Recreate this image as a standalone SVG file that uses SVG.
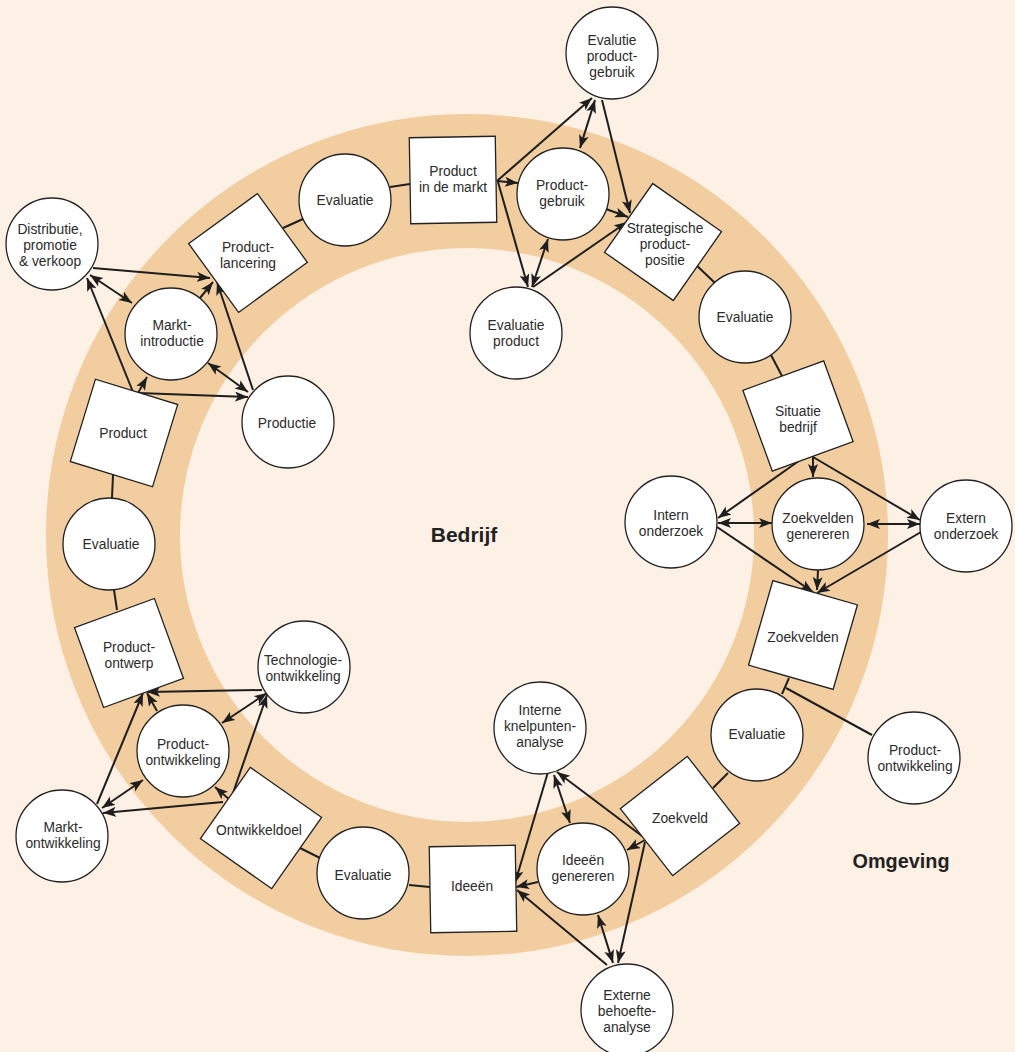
<svg xmlns="http://www.w3.org/2000/svg" width="1015" height="1052" viewBox="0 0 1015 1052">
<defs>
<style>
.bg{fill:#fdf0e4}
.ring{fill:none;stroke:#f1cda0;stroke-width:134}
.nd{fill:#fff;stroke:#222;stroke-width:1.3}
.t{font-family:"Liberation Sans",Arial,sans-serif;font-size:13.8px;fill:#2b2b2b;text-anchor:middle}
.big{font-family:"Liberation Sans",Arial,sans-serif;font-size:21px;font-weight:bold;fill:#222;text-anchor:middle}
.ln{stroke:#1e1e1e;stroke-width:2;fill:none}
.a{stroke:#1e1e1e;stroke-width:2;fill:none;marker-end:url(#ah)}
.b{stroke:#1e1e1e;stroke-width:2;fill:none;marker-end:url(#ah);marker-start:url(#ah)}
</style>
<marker id="ah" markerUnits="userSpaceOnUse" markerWidth="14" markerHeight="11" refX="13" refY="5" orient="auto-start-reverse">
<path d="M0,0 L13,5 L0,10 L3,5 z" fill="#1e1e1e"/>
</marker>
</defs>
<rect class="bg" x="0" y="0" width="1015" height="1052"/>
<circle class="ring" cx="467" cy="535" r="354"/>
<text class="big" x="464" y="542">Bedrijf</text>
<text class="big" x="901" y="868" textLength="97" lengthAdjust="spacingAndGlyphs">Omgeving</text>

<g id="connectors">
<line class="ln" x1="283" y1="228" x2="303" y2="219"/>
<line class="ln" x1="390" y1="187" x2="410" y2="184"/>
<line class="ln" x1="693" y1="262" x2="715" y2="283"/>
<line class="ln" x1="771" y1="355" x2="782" y2="376"/>
<line class="ln" x1="789" y1="678" x2="782" y2="694"/>
<line class="ln" x1="786" y1="688" x2="872" y2="735"/>
<line class="ln" x1="728" y1="773" x2="713" y2="788"/>
<line class="ln" x1="409" y1="885" x2="430" y2="887"/>
<line class="ln" x1="300" y1="848" x2="320" y2="858"/>
<line class="ln" x1="114" y1="590" x2="117" y2="610"/>
<line class="ln" x1="113" y1="475" x2="112" y2="498"/>

<line class="a" x1="497" y1="181" x2="592" y2="98"/>
<line class="a" x1="497" y1="181" x2="518" y2="183"/>
<line class="a" x1="498" y1="182" x2="528" y2="287"/>
<line class="b" x1="595" y1="100" x2="580" y2="148"/>
<line class="a" x1="602" y1="100" x2="630" y2="213"/>
<line class="a" x1="606" y1="209" x2="628" y2="217"/>
<line class="b" x1="548" y1="239" x2="532" y2="287"/>
<line class="a" x1="533" y1="287" x2="627" y2="222"/>

<line class="a" x1="93" y1="268" x2="210" y2="278"/>
<line class="b" x1="90" y1="275" x2="132" y2="303"/>
<line class="a" x1="200" y1="298" x2="213" y2="282"/>
<line class="a" x1="253" y1="390" x2="217" y2="282"/>
<line class="b" x1="208" y1="363" x2="248" y2="392"/>
<line class="a" x1="133" y1="392" x2="87" y2="278"/>
<line class="a" x1="138" y1="393" x2="147" y2="377"/>
<line class="a" x1="138" y1="393" x2="248" y2="397"/>

<line class="a" x1="813" y1="457" x2="813" y2="477"/>
<line class="a" x1="803" y1="458" x2="718" y2="518"/>
<line class="a" x1="813" y1="457" x2="920" y2="520"/>
<line class="b" x1="718" y1="523" x2="772" y2="523"/>
<line class="b" x1="867" y1="524" x2="920" y2="524"/>
<line class="a" x1="717" y1="527" x2="813" y2="592"/>
<line class="a" x1="818" y1="570" x2="817" y2="590"/>
<line class="a" x1="921" y1="532" x2="817" y2="593"/>

<line class="a" x1="645" y1="840" x2="627" y2="850"/>
<line class="a" x1="645" y1="842" x2="618" y2="963"/>
<line class="a" x1="642" y1="836" x2="557" y2="772"/>
<line class="a" x1="548" y1="772" x2="515" y2="883"/>
<line class="b" x1="554" y1="775" x2="570" y2="823"/>
<line class="a" x1="538" y1="882" x2="516" y2="887"/>
<line class="a" x1="607" y1="965" x2="517" y2="890"/>
<line class="b" x1="598" y1="915" x2="613" y2="963"/>

<line class="a" x1="262" y1="690" x2="147" y2="692"/>
<line class="a" x1="157" y1="711" x2="147" y2="693"/>
<line class="b" x1="222" y1="723" x2="267" y2="693"/>
<line class="a" x1="233" y1="793" x2="267" y2="695"/>
<line class="a" x1="230" y1="800" x2="215" y2="787"/>
<line class="a" x1="223" y1="802" x2="103" y2="813"/>
<line class="a" x1="97" y1="804" x2="143" y2="693"/>
<line class="b" x1="102" y1="808" x2="143" y2="780"/>
</g>

<g id="product-in-de-markt"><rect class="nd" x="-43" y="-43" width="86" height="86" transform="translate(453,180) rotate(-1)"/><text class="t" x="453" y="176">Product<tspan x="453" dy="16">in de markt</tspan></text></g>
<g id="strategische-productpositie"><rect class="nd" x="-42" y="-42" width="84" height="84" transform="translate(663,242) rotate(35)"/><text class="t" x="665" y="233">Strategische<tspan x="665" dy="16">product-</tspan><tspan x="665" dy="16">positie</tspan></text></g>
<g id="situatie-bedrijf"><rect class="nd" x="-43" y="-43" width="86" height="86" transform="translate(798,416) rotate(-20)"/><text class="t" x="798" y="416">Situatie<tspan x="798" dy="16">bedrijf</tspan></text></g>
<g id="zoekvelden"><rect class="nd" x="-44" y="-44" width="88" height="88" transform="translate(803,635) rotate(16)"/><text class="t" x="803" y="642">Zoekvelden</text></g>
<g id="zoekveld"><rect class="nd" x="-42.5" y="-42.5" width="85" height="85" transform="translate(680,816) rotate(52)"/><text class="t" x="680" y="823">Zoekveld</text></g>
<g id="ideeen"><rect class="nd" x="-43" y="-43" width="86" height="86" transform="translate(473,889) rotate(-1)"/><text class="t" x="472" y="891">Ideeën</text></g>
<g id="ontwikkeldoel"><rect class="nd" x="-43.5" y="-43.5" width="87" height="87" transform="translate(261,828) rotate(35)"/><text class="t" x="259" y="835">Ontwikkeldoel</text></g>
<g id="productontwerp"><rect class="nd" x="-42.5" y="-42.5" width="85" height="85" transform="translate(129,653) rotate(-20)"/><text class="t" x="129" y="652">Product-<tspan x="129" dy="16">ontwerp</tspan></text></g>
<g id="product"><rect class="nd" x="-43" y="-43" width="86" height="86" transform="translate(124,433) rotate(17)"/><text class="t" x="123" y="438">Product</text></g>
<g id="productlancering"><rect class="nd" x="-42.5" y="-42.5" width="85" height="85" transform="translate(248,253) rotate(54)"/><text class="t" x="248" y="252">Product-<tspan x="248" dy="16">lancering</tspan></text></g>

<g id="evaluatie-1"><circle class="nd" cx="345" cy="200" r="46"/><text class="t" x="345" y="205">Evaluatie</text></g>
<g id="evalutie-productgebruik"><circle class="nd" cx="612" cy="53" r="46"/><text class="t" x="612" y="45">Evalutie<tspan x="612" dy="16">product-</tspan><tspan x="612" dy="16">gebruik</tspan></text></g>
<g id="productgebruik"><circle class="nd" cx="563" cy="194" r="46"/><text class="t" x="562" y="190">Product-<tspan x="562" dy="16">gebruik</tspan></text></g>
<g id="evaluatie-product"><circle class="nd" cx="516" cy="333" r="46"/><text class="t" x="516" y="330">Evaluatie<tspan x="516" dy="16">product</tspan></text></g>
<g id="evaluatie-2"><circle class="nd" cx="745" cy="317" r="46"/><text class="t" x="745" y="322">Evaluatie</text></g>
<g id="intern-onderzoek"><circle class="nd" cx="671" cy="522" r="46"/><text class="t" x="671" y="520">Intern<tspan x="671" dy="16">onderzoek</tspan></text></g>
<g id="zoekvelden-genereren"><circle class="nd" cx="818" cy="524" r="46"/><text class="t" x="818" y="523">Zoekvelden<tspan x="818" dy="16">genereren</tspan></text></g>
<g id="extern-onderzoek"><circle class="nd" cx="966" cy="526" r="46"/><text class="t" x="966" y="523">Extern<tspan x="966" dy="16">onderzoek</tspan></text></g>
<g id="evaluatie-3"><circle class="nd" cx="757" cy="735" r="46"/><text class="t" x="757" y="739">Evaluatie</text></g>
<g id="productontwikkeling-extern"><circle class="nd" cx="914" cy="758" r="46"/><text class="t" x="915" y="755">Product-<tspan x="915" dy="16">ontwikkeling</tspan></text></g>
<g id="interne-knelpuntenanalyse"><circle class="nd" cx="540" cy="728" r="46"/><text class="t" x="540" y="715">Interne<tspan x="540" dy="16">knelpunten-</tspan><tspan x="540" dy="16">analyse</tspan></text></g>
<g id="ideeen-genereren"><circle class="nd" cx="583" cy="869" r="46"/><text class="t" x="583" y="865">Ideeën<tspan x="583" dy="16">genereren</tspan></text></g>
<g id="externe-behoefteanalyse"><circle class="nd" cx="627" cy="1010" r="46"/><text class="t" x="627" y="1000">Externe<tspan x="627" dy="16">behoefte-</tspan><tspan x="627" dy="16">analyse</tspan></text></g>
<g id="evaluatie-4"><circle class="nd" cx="363" cy="873" r="46"/><text class="t" x="363" y="880">Evaluatie</text></g>
<g id="marktontwikkeling"><circle class="nd" cx="62" cy="836" r="46"/><text class="t" x="63" y="832">Markt-<tspan x="63" dy="16">ontwikkeling</tspan></text></g>
<g id="productontwikkeling"><circle class="nd" cx="183" cy="751" r="46"/><text class="t" x="183" y="749">Product-<tspan x="183" dy="16">ontwikkeling</tspan></text></g>
<g id="technologieontwikkeling"><circle class="nd" cx="304" cy="667" r="46"/><text class="t" x="303" y="665">Technologie-<tspan x="303" dy="16">ontwikkeling</tspan></text></g>
<g id="evaluatie-5"><circle class="nd" cx="109" cy="544" r="46"/><text class="t" x="111" y="549">Evaluatie</text></g>
<g id="marktintroductie"><circle class="nd" cx="171" cy="334" r="46"/><text class="t" x="172" y="330">Markt-<tspan x="172" dy="16">introductie</tspan></text></g>
<g id="productie"><circle class="nd" cx="288" cy="422" r="46"/><text class="t" x="287" y="428">Productie</text></g>
<g id="distributie"><circle class="nd" cx="52" cy="244" r="46"/><text class="t" x="50" y="234">Distributie,<tspan x="50" dy="16">promotie</tspan><tspan x="50" dy="16">&amp; verkoop</tspan></text></g>
</svg>
